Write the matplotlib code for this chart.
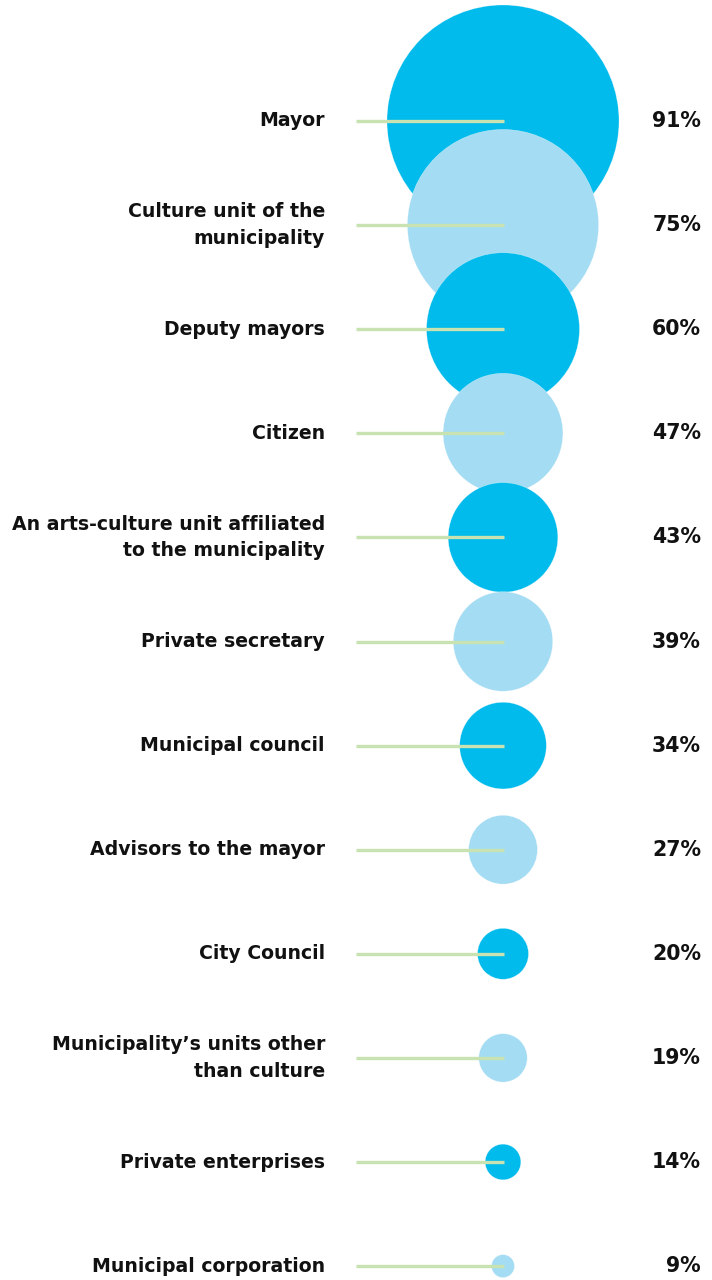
import matplotlib.pyplot as plt
from matplotlib.patches import Circle

labels = ["Mayor", "Culture unit of the\nmunicipality", "Deputy mayors", "Citizen",
          "An arts-culture unit affiliated\nto the municipality", "Private secretary",
          "Municipal council", "Advisors to the mayor", "City Council",
          "Municipality\u2019s units other\nthan culture", "Private enterprises",
          "Municipal corporation"]
values = [91, 75, 60, 47, 43, 39, 34, 27, 20, 19, 14, 9]

dark = "#00bbec"
light = "#a3dcf3"
line_col = "#c9e2b1"

plt.rcParams['font.family'] = ['DejaVu Sans']

fig = plt.figure(figsize=(7.12, 12.8), dpi=100)
ax = fig.add_axes([0, 0, 1, 1])
ax.set_xlim(0, 712)
ax.set_ylim(1280, 0)
ax.axis('off')

y0 = 121
step = 104.1
cx = 503
scale = 1.275

for i, (lab, v) in enumerate(zip(labels, values)):
    y = y0 + i * step
    col = dark if i % 2 == 0 else light
    ax.add_patch(Circle((cx, y), v * scale, facecolor=col, edgecolor=(1, 1, 1, 0.5),
                        linewidth=0.4, zorder=2 + i))
for i, (lab, v) in enumerate(zip(labels, values)):
    y = y0 + i * step
    ax.plot([356, 504], [y, y], color=line_col, linewidth=2.4, zorder=50,
            solid_capstyle='butt')
    ax.text(325, y, lab, ha='right', va='center', fontsize=13.6, fontweight='bold',
            color='#111111', linespacing=1.5)
    ax.text(701, y, f"{v}%", ha='right', va='center', fontsize=14.8,
            fontweight='bold', color='#111111')

fig.savefig("out.png", dpi=100)
